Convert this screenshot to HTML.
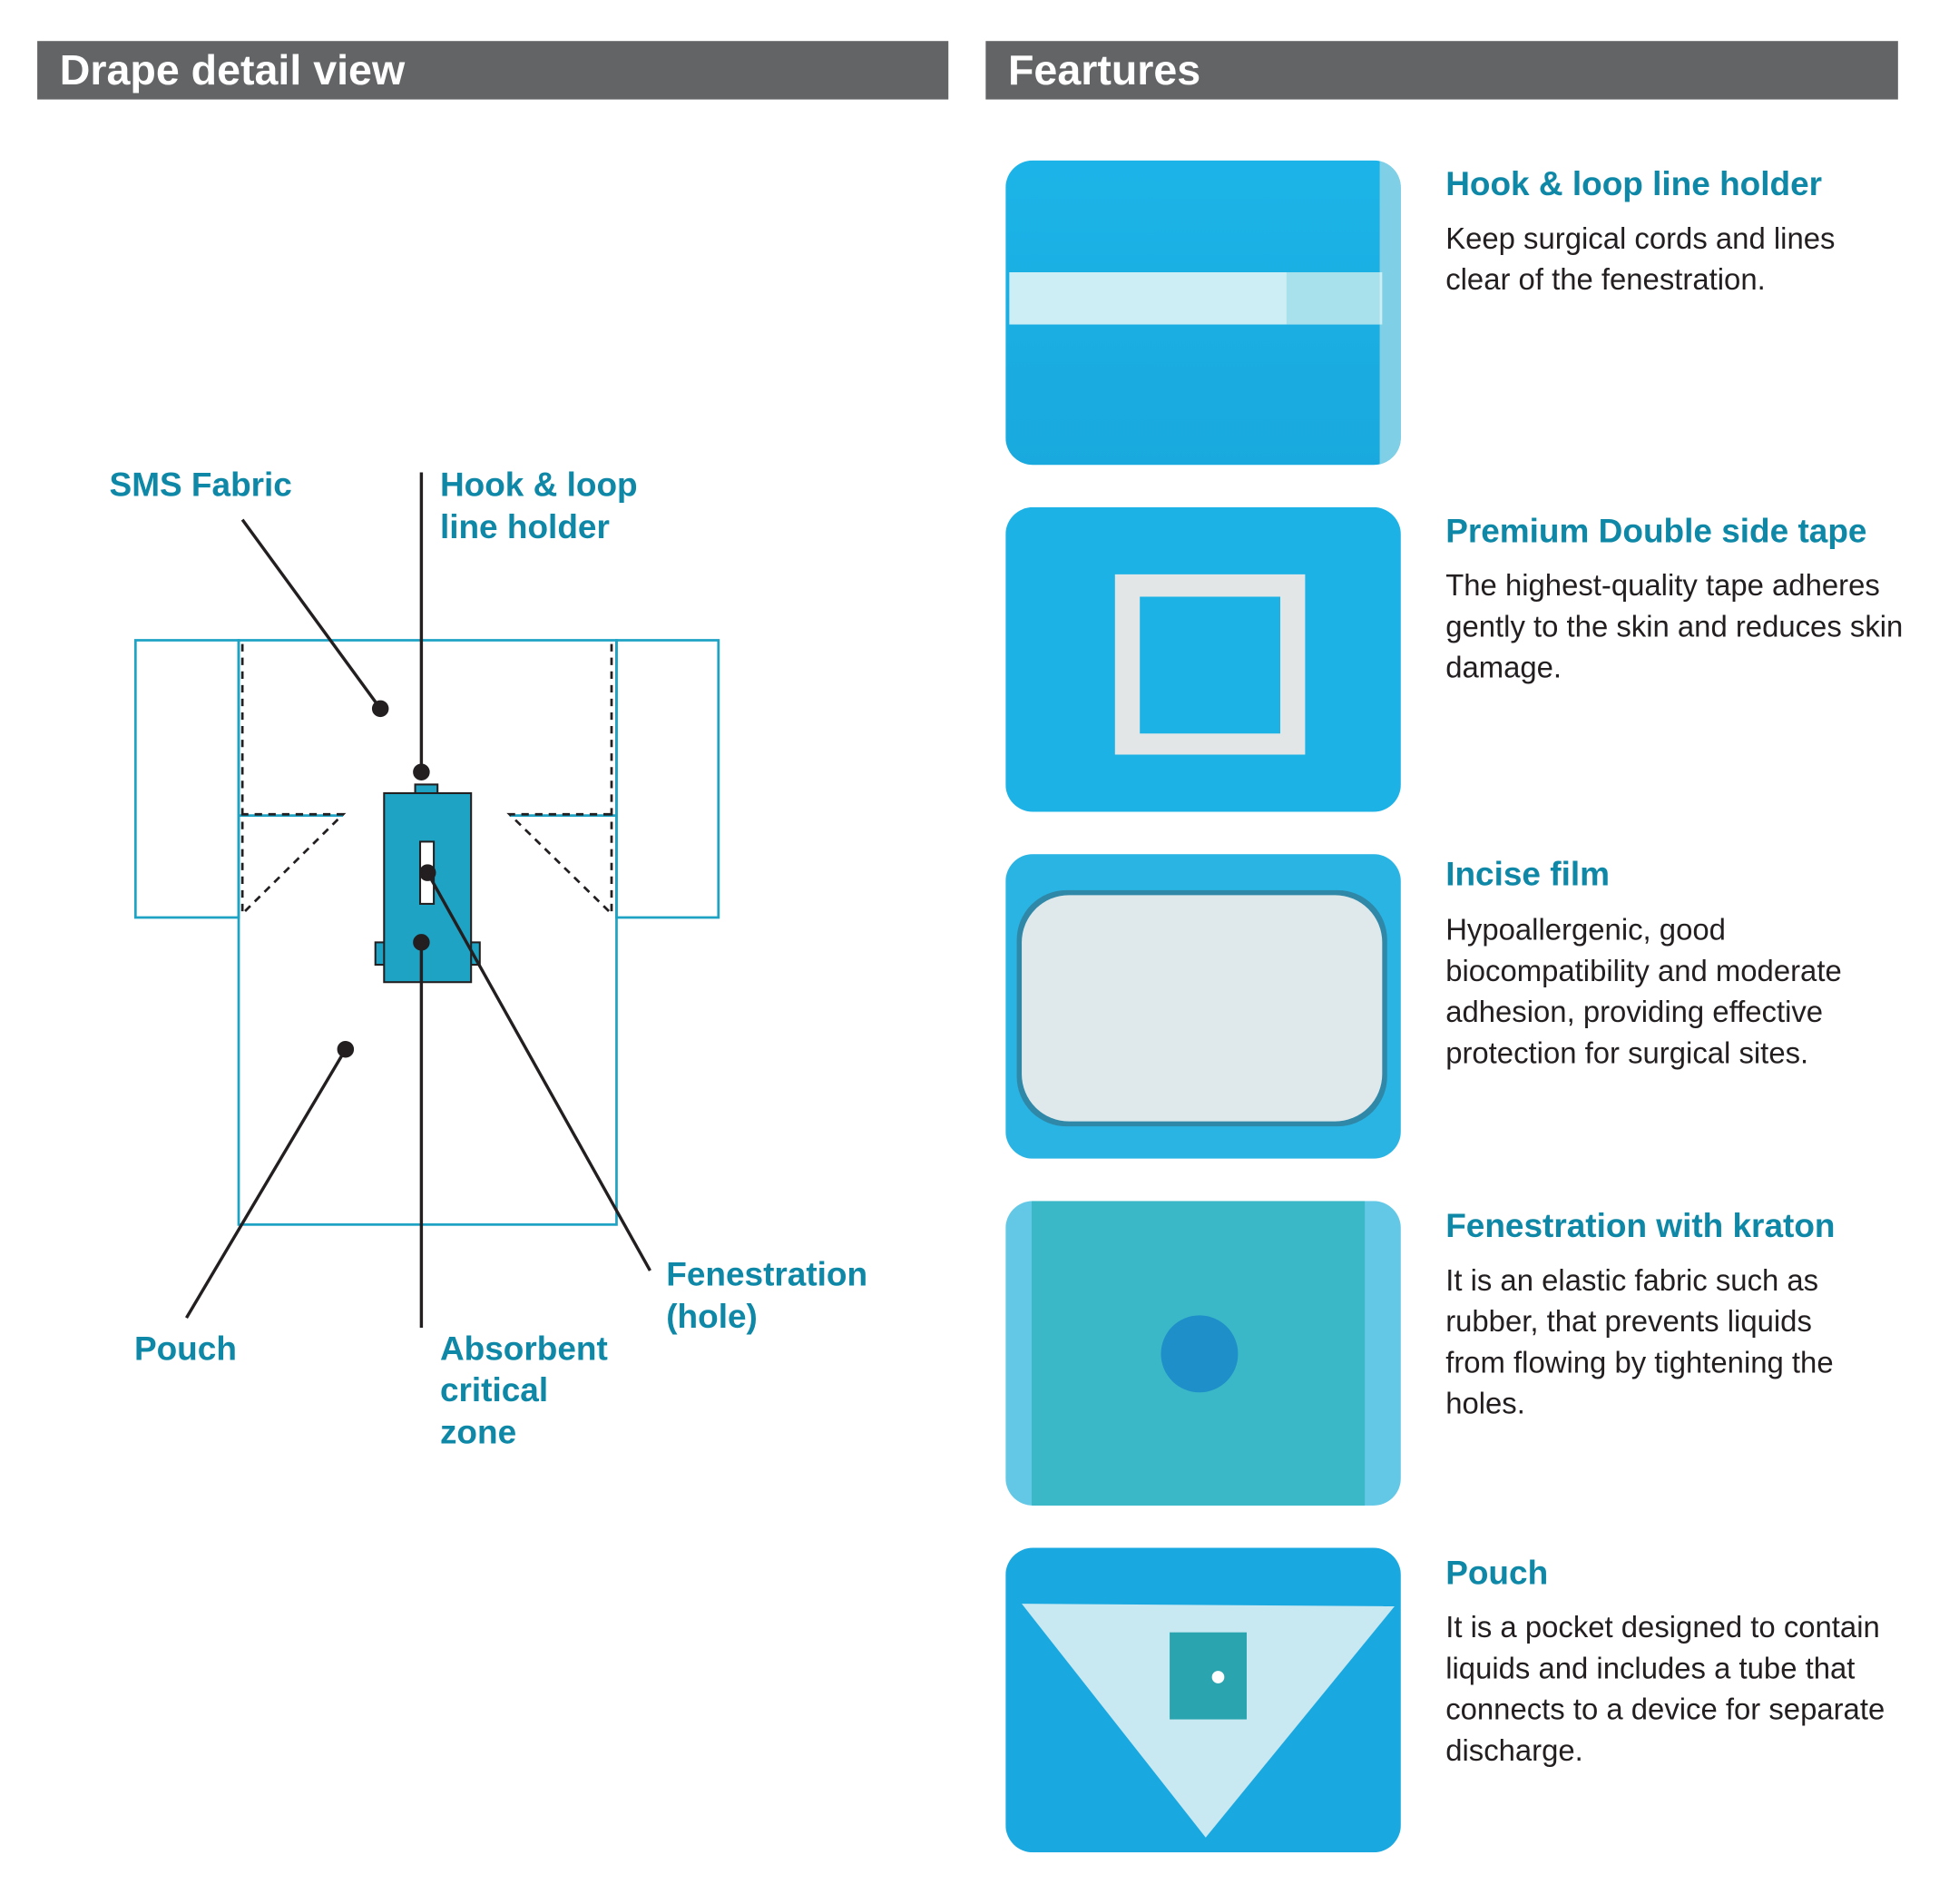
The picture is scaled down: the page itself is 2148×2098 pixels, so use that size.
<!DOCTYPE html>
<html><head><meta charset="utf-8"><style>
html,body{margin:0;padding:0;background:#fff;}
svg{display:block}
text{font-family:"Liberation Sans",sans-serif;}
.h{fill:#fff;font-size:34px;font-weight:bold}
.t{fill:#0e88a6;font-size:27px;font-weight:bold}
.b{fill:#231f20;font-size:24px}
.l{fill:#0e88a6;font-size:27px;font-weight:bold}
</style></head><body>
<svg width="2148" height="2098" viewBox="0 0 1568 1531.5" xmlns="http://www.w3.org/2000/svg">
<defs>
<linearGradient id="g1" x1="0" y1="0" x2="0" y2="1"><stop offset="0" stop-color="#1cb4e8"/><stop offset="1" stop-color="#19a9de"/></linearGradient>
<clipPath id="c1"><rect x="809" y="129" width="318" height="245" rx="22"/></clipPath>
<clipPath id="c2"><rect x="809" y="408" width="318" height="245" rx="22"/></clipPath>
<clipPath id="c3"><rect x="809" y="687" width="318" height="245" rx="22"/></clipPath>
<clipPath id="c4"><rect x="809" y="966" width="318" height="245" rx="22"/></clipPath>
<clipPath id="c5"><rect x="809" y="1245" width="318" height="245" rx="22"/></clipPath>
</defs>
<rect x="30" y="33" width="733" height="47" fill="#636466"/>
<text class="h" x="48" y="68">Drape detail view</text>
<rect x="793" y="33" width="734" height="47" fill="#636466"/>
<text class="h" x="811" y="68">Feartures</text>

<g fill="none" stroke="#1ea3c4" stroke-width="2">
<rect x="109" y="515" width="83" height="223"/>
<rect x="496" y="515" width="82" height="223"/>
<rect x="192" y="515" width="304" height="470"/>
<line x1="192" y1="656" x2="276" y2="656"/>
<line x1="410" y1="656" x2="496" y2="656"/>
</g>
<g fill="none" stroke="#231f20" stroke-width="2" stroke-dasharray="6,5">
<path d="M195 518 V735 L276 655 H195"/>
<path d="M492 518 V735 L410 655 H492"/>
</g>
<g stroke="#231f20" stroke-width="1.5" fill="#1fa3c4">
<rect x="334" y="631" width="18" height="8"/>
<rect x="302" y="758" width="8" height="18"/>
<rect x="378" y="758" width="8" height="18"/>
<rect x="309" y="638" width="70" height="152"/>
<rect x="338" y="677" width="11" height="50" fill="#fff"/>
</g>
<g stroke="#231f20" stroke-width="2.5" fill="#231f20">
<line x1="195" y1="418" x2="306" y2="570"/><circle cx="306" cy="570" r="5.5"/>
<line x1="339" y1="380" x2="339" y2="621"/><circle cx="339" cy="621" r="5.5"/>
<line x1="344" y1="702" x2="523" y2="1022"/><circle cx="344" cy="702" r="5.5"/>
<line x1="339" y1="758" x2="339" y2="1068"/><circle cx="339" cy="758" r="5.5"/>
<line x1="278" y1="844" x2="150" y2="1060"/><circle cx="278" cy="844" r="5.5"/>
</g>
<text class="l" x="88" y="399">SMS Fabric</text>
<text class="l" x="354" y="399">Hook &amp; loop</text>
<text class="l" x="354" y="433">line holder</text>
<text class="l" x="536" y="1034">Fenestration</text>
<text class="l" x="536" y="1068">(hole)</text>
<text class="l" x="108" y="1094">Pouch</text>
<text class="l" x="354" y="1094">Absorbent</text>
<text class="l" x="354" y="1127">critical</text>
<text class="l" x="354" y="1161">zone</text>

<g clip-path="url(#c1)">
<rect x="809" y="129" width="318" height="245" fill="url(#g1)"/>
<rect x="1110" y="129" width="17" height="245" fill="#7fd0e6"/>
<rect x="812" y="219" width="300" height="42" fill="#cdeef4"/>
<rect x="1035" y="219" width="75" height="42" fill="#a8e0ec"/>
</g>
<g clip-path="url(#c2)">
<rect x="809" y="408" width="318" height="245" fill="#1cb2e6"/>
<path d="M897 462 H1050 V607 H897 Z M917 480 V590 H1030 V480 Z" fill="#e2e6e6" fill-rule="evenodd"/>
</g>
<g clip-path="url(#c3)">
<rect x="809" y="687" width="318" height="245" fill="#2ab4e4"/>
<rect x="818" y="716" width="298" height="190" rx="40" fill="#2f88a8"/>
<rect x="822" y="720" width="290" height="182" rx="38" fill="#dfe8ea"/>
</g>
<g clip-path="url(#c4)">
<rect x="809" y="966" width="318" height="245" fill="#62c8e6"/>
<rect x="830" y="966" width="268" height="245" fill="#3ab8c8"/>
<circle cx="965" cy="1089" r="31" fill="#1e8fc8"/>
</g>
<g clip-path="url(#c5)">
<rect x="809" y="1245" width="318" height="245" fill="#1aa8e0"/>
<path d="M822 1290 L1122 1292 L970 1478 Z" fill="#c8e8f2"/>
<rect x="941" y="1313" width="62" height="70" fill="#2aa5b0"/>
<circle cx="980" cy="1349" r="5" fill="#fff"/>
</g>

<text class="t" x="1163" y="157">Hook &amp; loop line holder</text>
<text class="b" x="1163" y="200">Keep surgical cords and lines</text>
<text class="b" x="1163" y="233">clear of the fenestration.</text>

<text class="t" x="1163" y="436">Premium Double side tape</text>
<text class="b" x="1163" y="479">The highest-quality tape adheres</text>
<text class="b" x="1163" y="512">gently to the skin and reduces skin</text>
<text class="b" x="1163" y="545">damage.</text>

<text class="t" x="1163" y="712">Incise film</text>
<text class="b" x="1163" y="756">Hypoallergenic, good</text>
<text class="b" x="1163" y="789">biocompatibility and moderate</text>
<text class="b" x="1163" y="822">adhesion, providing effective</text>
<text class="b" x="1163" y="855">protection for surgical sites.</text>

<text class="t" x="1163" y="995">Fenestration with kraton</text>
<text class="b" x="1163" y="1038">It is an elastic fabric such as</text>
<text class="b" x="1163" y="1071">rubber, that prevents liquids</text>
<text class="b" x="1163" y="1104">from flowing by tightening the</text>
<text class="b" x="1163" y="1137">holes.</text>

<text class="t" x="1163" y="1274">Pouch</text>
<text class="b" x="1163" y="1317">It is a pocket designed to contain</text>
<text class="b" x="1163" y="1350">liquids and includes a tube that</text>
<text class="b" x="1163" y="1383">connects to a device for separate</text>
<text class="b" x="1163" y="1416">discharge.</text>
</svg>
</body></html>
